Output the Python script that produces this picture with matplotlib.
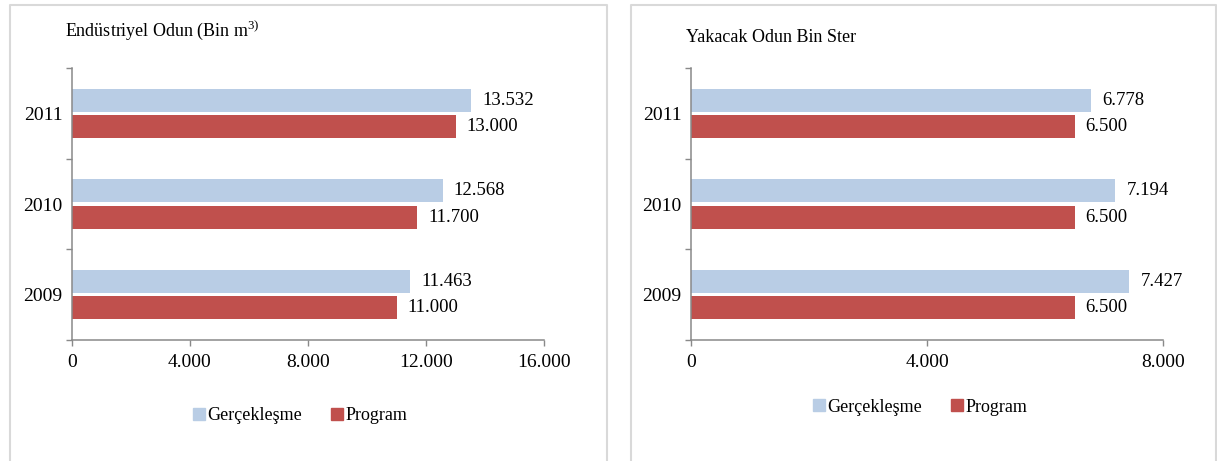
import matplotlib
matplotlib.use("Agg")
import matplotlib.pyplot as plt
from matplotlib.lines import Line2D
from matplotlib.patches import Patch
import numpy as np

plt.rcParams['font.family'] = ['Liberation Serif', 'DejaVu Serif']
plt.rcParams['mathtext.fontset'] = 'custom'
plt.rcParams['mathtext.rm'] = 'Liberation Serif'

years = ['2009', '2010', '2011']
endustriyel_gercek = [11463, 12568, 13532]
endustriyel_program = [11000, 11700, 13000]
yakacak_gercek = [7427, 7194, 6778]
yakacak_program = [6500, 6500, 6500]

BLUE = '#B9CDE5'
RED = '#C0504D'
AXIS = '#898989'
BORDER = '#D9D9D9'

W, H = 1217, 461
fig = plt.figure(figsize=(W / 100, H / 100), dpi=100)


def px_axes(left, top, right, bottom):
    return fig.add_axes([left / W, 1 - bottom / H, (right - left) / W, (bottom - top) / H])


def fmt(v):
    return f"{v:,.0f}".replace(',', '.')


def draw_panel(ax, gercek, program, xmax, xstep):
    y = np.arange(len(years))
    h = 0.255
    off = 0.145
    b1 = ax.barh(y + off, gercek, height=h, color=BLUE, label='Gerçekleşme')
    b2 = ax.barh(y - off, program, height=h, color=RED, label='Program')
    for bars, vals in ((b1, gercek), (b2, program)):
        for rect, v in zip(bars, vals):
            ax.annotate(fmt(v), (rect.get_width(), rect.get_y() + rect.get_height() / 2),
                        xytext=(8, 0), textcoords='offset points',
                        va='center', ha='left', fontsize=13.5)
    ax.set_xlim(0, xmax)
    ax.set_ylim(-0.5, len(years) - 0.5)
    ax.set_xticks(np.arange(0, xmax + 1, xstep))
    ax.set_xticklabels([fmt(v) for v in np.arange(0, xmax + 1, xstep)])
    ax.set_yticks(y)
    ax.set_yticklabels(years)
    ax.set_yticks(np.arange(-0.5, len(years)), minor=True)
    ax.tick_params(axis='y', which='major', length=0, pad=7, labelsize=14)
    ax.tick_params(axis='y', which='minor', length=4, color=AXIS, width=1.0)
    ax.tick_params(axis='x', length=4, color=AXIS, width=1.0, pad=6, labelsize=14)
    for s in ('top', 'right'):
        ax.spines[s].set_visible(False)
    for s in ('left', 'bottom'):
        ax.spines[s].set_color(AXIS)
        ax.spines[s].set_linewidth(1.1)


ax1 = px_axes(72, 68, 544, 340)
draw_panel(ax1, endustriyel_gercek, endustriyel_program, 16000, 4000)
ax2 = px_axes(691, 68, 1163, 340)
draw_panel(ax2, yakacak_gercek, yakacak_program, 8000, 4000)

fig.text(65 / W, 1 - 30 / H, r'Endüstriyel Odun (Bin m$\mathrm{^{3)}}$', fontsize=13, va='center', ha='left')
fig.text(686 / W, 1 - 37 / H, 'Yakacak Odun Bin Ster', fontsize=13, va='center', ha='left')

handles = [Patch(color=BLUE, label='Gerçekleşme'), Patch(color=RED, label='Program')]
for cx, cy in ((300, 416), (920, 407)):
    fig.legend(handles=handles, loc='center', bbox_to_anchor=(cx / W, 1 - cy / H),
               ncol=2, frameon=False, fontsize=13, handlelength=0.65, handleheight=0.65,
               handletextpad=0.15, columnspacing=1.6)

# panel borders
for x0, x1 in ((9.5, 606.5), (631, 1216)):
    pts_x = [x0 / W, x0 / W, x1 / W, x1 / W]
    pts_y = [0, 1 - 5.5 / H, 1 - 5.5 / H, 0]
    fig.add_artist(Line2D(pts_x, pts_y, color=BORDER, linewidth=1.5))

fig.savefig('out.png', dpi=100)
